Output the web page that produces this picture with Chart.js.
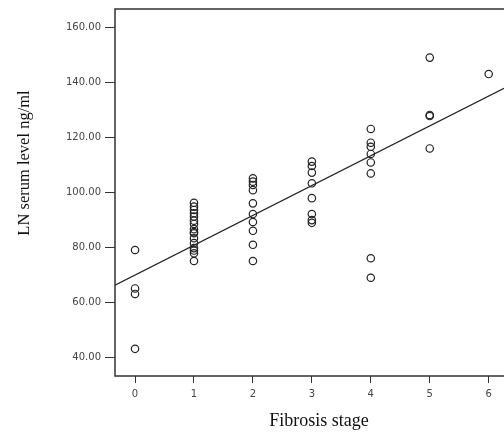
<!DOCTYPE html>
<html>
<head>
<meta charset="utf-8">
<script src="https://cdn.jsdelivr.net/npm/chart.js@4.4.1/dist/chart.umd.min.js"></script>
<style>
  html, body { margin: 0; padding: 0; background: #fff; }
  #wrap { width: 504px; height: 432px; }
</style>
</head>
<body>
<div id="wrap"><canvas id="chartLN"></canvas></div>
<script>
// LN serum level by fibrosis stage - scatter + fit line

const stage0 = [79, 65, 63, 43];
const stage1 = [96.2, 94.8, 93.6, 92.4, 91.2, 89.7, 88.5, 86.6, 85.5, 85.1, 83.3, 81.5, 79.7, 78.8, 77.8, 75.0];
const stage2 = [105.1, 103.9, 102.7, 100.8, 96.0, 92.1, 89.2, 86.0, 80.9, 75.0];
const stage3 = [111.2, 109.6, 107.2, 103.3, 97.9, 92.1, 89.9, 88.9];
const stage4 = [123.1, 118.1, 116.6, 114.0, 110.9, 106.9, 76.0, 68.9];
const stage5 = [149.1, 128.2, 127.8, 116.0];
const stage6 = [143.1];

// fit line end points
const fitX = [-0.34, 6.26];
const fitY = [66.2, 137.9];

const yTicks = [40, 60, 80, 100, 120, 140, 160];
const xTicks = [0, 1, 2, 3, 4, 5, 6];
const xTitle = 'Fibrosis stage';
const yTitle = 'LN serum level ng/ml';

const stages = [stage0, stage1, stage2, stage3, stage4, stage5, stage6];
const points = [];
stages.forEach((vals, i) => vals.forEach(v => points.push({ x: xTicks[i], y: v })));

// frame round the plot + axis titles (placed like the original, off-centre)
const frame = {
  id: 'frame',
  afterDraw(chart) {
    const { ctx, chartArea: a } = chart;
    ctx.save();
    ctx.strokeStyle = '#333';
    ctx.lineWidth = 1.5;
    ctx.strokeRect(a.left, a.top, a.right - a.left + 10, a.bottom - a.top);

    ctx.fillStyle = '#111';
    ctx.textAlign = 'center';
    ctx.textBaseline = 'middle';
    ctx.font = '18px "Liberation Serif"';
    ctx.fillText(xTitle, 319, 421);

    ctx.translate(25, 163);
    ctx.rotate(-Math.PI / 2);
    ctx.font = '16.5px "Liberation Serif"';
    ctx.fillText(yTitle, 0, 0);
    ctx.restore();
  }
};

new Chart(document.getElementById('chartLN').getContext('2d'), {
  type: 'scatter',
  data: {
    datasets: [{
      label: 'LN',
      data: points,
      pointStyle: 'circle',
      pointRadius: 3.7,
      pointBorderWidth: 1.2,
      pointBorderColor: '#222',
      pointBackgroundColor: 'rgba(0,0,0,0)',
    }, {
      type: 'line',
      label: 'fit',
      data: fitX.map((x, i) => ({ x, y: fitY[i] })),
      borderColor: '#222',
      borderWidth: 1.2,
      pointRadius: 0,
      fill: false,
    }]
  },
  options: {
    responsive: true,
    maintainAspectRatio: false,
    animation: false,
    layout: { autoPadding: false, padding: { top: 9, left: 0, right: 0, bottom: 0 } },
    plugins: {
      legend: { display: false },
      tooltip: { enabled: false }
    },
    scales: {
      x: {
        type: 'linear',
        min: -0.34, max: 6.26,
        afterFit: s => { s.height = 56; s.paddingLeft = 0; s.paddingRight = 0; },
        afterBuildTicks: s => { s.ticks = xTicks.map(v => ({ value: v })); },
        grid: { drawOnChartArea: false, drawTicks: true, tickLength: 7, color: '#333', lineWidth: 1 },
        border: { display: false },
        ticks: { color: '#444', padding: 5, font: { family: 'DejaVu Sans', size: 10 } },
      },
      y: {
        min: 33.1, max: 166.8,
        afterFit: s => { s.width = 115; s.paddingTop = 0; s.paddingBottom = 0; },
        afterBuildTicks: s => { s.ticks = yTicks.map(v => ({ value: v })); },
        grid: { drawOnChartArea: false, drawTicks: true, tickLength: 10, color: '#333', lineWidth: 1 },
        border: { display: false },
        ticks: { color: '#444', padding: 4, font: { family: 'DejaVu Sans', size: 10 },
                 callback: v => Number(v).toFixed(2) },
      }
    }
  },
  plugins: [frame]
});
</script>
</body>
</html>
